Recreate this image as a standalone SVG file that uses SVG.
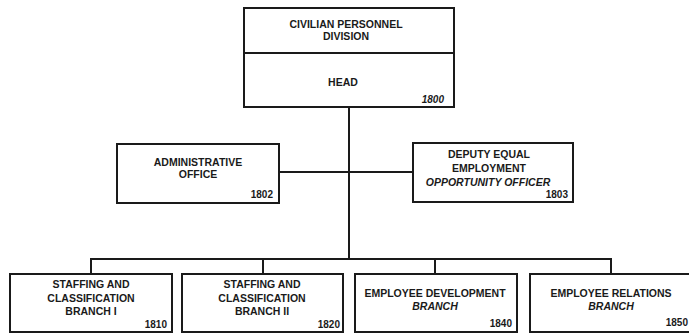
<svg xmlns="http://www.w3.org/2000/svg" width="689" height="334" viewBox="0 0 689 334">
<style>
.box{fill:#fff;stroke:#1a1a1a;stroke-width:2}
.ln{fill:none;stroke:#1a1a1a;stroke-width:2}
text{font-family:"Liberation Sans",Arial,sans-serif;font-size:10.5px;font-weight:bold;fill:#1a1a1a}
.c{text-anchor:middle}
.n{text-anchor:end;font-size:10px}
.i{font-style:italic}
</style>
<rect width="689" height="334" fill="#fff"/>
<g id="connectors">
<path class="ln" d="M349 107 V259"/>
<path class="ln" d="M279 172 H413"/>
<path class="ln" d="M91 274 V259 H611 V274"/>
<path class="ln" d="M263 259 V274"/>
<path class="ln" d="M435 259 V274"/>
</g>
<g id="n1800">
<rect class="box" x="244" y="8" width="210" height="99"/>
<path class="ln" d="M244 53 H454"/>
<text class="c" x="346" y="28">CIVILIAN PERSONNEL</text>
<text class="c" x="346" y="40">DIVISION</text>
<text class="c" x="343" y="86">HEAD</text>
<text class="n i" x="444" y="103">1800</text>
</g>
<g id="n1802">
<rect class="box" x="117" y="144" width="162" height="59"/>
<text class="c" x="198" y="166">ADMINISTRATIVE</text>
<text class="c" x="198" y="178">OFFICE</text>
<text class="n" x="273" y="198">1802</text>
</g>
<g id="n1803">
<rect class="box" x="413" y="143" width="160" height="59"/>
<text class="c" x="489" y="158">DEPUTY EQUAL</text>
<text class="c" x="489" y="172">EMPLOYMENT</text>
<text class="c i" x="488" y="186">OPPORTUNITY OFFICER</text>
<text class="n" x="568" y="198">1803</text>
</g>
<g id="n1810">
<rect class="box" x="10" y="274" width="162" height="58"/>
<text class="c" x="91" y="288">STAFFING AND</text>
<text class="c" x="91" y="302">CLASSIFICATION</text>
<text class="c" x="91" y="315">BRANCH I</text>
<text class="n" x="167" y="328">1810</text>
</g>
<g id="n1820">
<rect class="box" x="182" y="274" width="161" height="58"/>
<text class="c" x="262" y="288">STAFFING AND</text>
<text class="c" x="262" y="302">CLASSIFICATION</text>
<text class="c" x="262" y="315">BRANCH II</text>
<text class="n" x="340" y="328">1820</text>
</g>
<g id="n1840">
<rect class="box" x="355" y="274" width="162" height="58"/>
<text class="c" x="435" y="297">EMPLOYEE DEVELOPMENT</text>
<text class="c i" x="435" y="310">BRANCH</text>
<text class="n" x="512" y="327">1840</text>
</g>
<g id="n1850">
<rect class="box" x="530" y="274" width="165" height="58"/>
<text class="c" x="611" y="297">EMPLOYEE RELATIONS</text>
<text class="c i" x="611" y="310">BRANCH</text>
<text class="n" x="688" y="326">1850</text>
</g>
</svg>
